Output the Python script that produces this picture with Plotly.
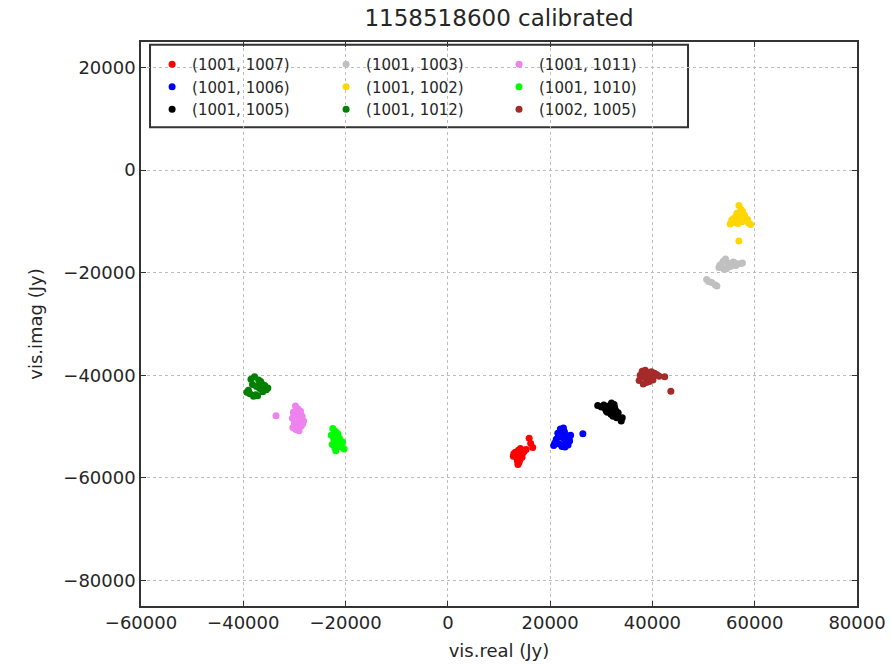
import plotly.graph_objects as go

# Visibilities per baseline: real and imaginary parts (Jy)
red_x = [13200, 13800, 14300, 12800, 13500, 14700, 13900, 14100, 13400, 14500, 12900, 13700, 14900, 14200, 13600, 15300, 15900, 16600, 16200, 14000]
red_y = [-55000, -54600, -55400, -55800, -56200, -55100, -57000, -56500, -55500, -56000, -55300, -57400, -54800, -54300, -56700, -54500, -52300, -54100, -53300, -55900]

blue_x = [21500, 22000, 22800, 23300, 21200, 22500, 23800, 21800, 22300, 20900, 23000, 24000, 22600, 21600, 23500, 22100, 26400, 20700, 22900, 23700]
blue_y = [-51300, -50500, -51000, -51800, -52500, -52200, -52800, -53400, -53900, -53200, -52900, -51700, -50300, -52000, -53600, -51600, -51400, -53700, -54000, -52400]

black_x = [29300, 30000, 30800, 31500, 32000, 32500, 31200, 31900, 32800, 33300, 30500, 31700, 32300, 33900, 34100, 31000, 32600, 33000]
black_y = [-45900, -46200, -46600, -46000, -45400, -45700, -47200, -47600, -46800, -47300, -45800, -46500, -48000, -48900, -48300, -47000, -46300, -48300]

grey_x = [53200, 53800, 54300, 54800, 55500, 56000, 56700, 57300, 53600, 54500, 55200, 54000, 53000, 56300, 57600, 55800, 51000, 51600, 52300, 50600, 52600]
grey_y = [-18500, -17800, -17300, -18100, -18600, -18000, -18300, -18200, -19000, -19200, -18800, -19300, -19000, -18600, -18100, -17900, -21700, -21900, -22400, -21300, -22600]

yellow_x = [56900, 57300, 56500, 57600, 56200, 57000, 55500, 56000, 56700, 57800, 58300, 58800, 59200, 55200, 55800, 57400, 58000, 56400, 56900, 58600]
yellow_y = [-6900, -7600, -8400, -8000, -9200, -9000, -9700, -10200, -10400, -9300, -9800, -10300, -10600, -10500, -9500, -10100, -8800, -10000, -13800, -9600]

dgreen_x = [-38500, -37800, -37000, -36500, -38200, -37400, -36800, -35800, -35200, -39000, -38700, -37600, -36200, -35500, -39300, -38000, -37200, -36600]
dgreen_y = [-40800, -40300, -40900, -41500, -41800, -42200, -42600, -42000, -42500, -42900, -43600, -43800, -43200, -42800, -43300, -44100, -44000, -41200]

violet_x = [-29800, -29300, -30200, -28800, -29600, -28500, -30400, -29000, -28200, -30000, -29400, -28700, -30300, -29700, -28400, -29100, -33600, -30100]
violet_y = [-46000, -46600, -47200, -47000, -47800, -48000, -48400, -48700, -48900, -49300, -49600, -49900, -50200, -50600, -49500, -50800, -47900, -48000]

lime_x = [-22500, -22000, -21500, -22800, -21800, -21200, -22300, -20900, -21600, -22600, -20600, -21300, -22100, -20300, -21900, -20800]
lime_y = [-50400, -50900, -51400, -51700, -52000, -52300, -52500, -52900, -53200, -53500, -53000, -53800, -54100, -54400, -54700, -54000]

brown_x = [38000, 38600, 39200, 39800, 40400, 37600, 38300, 39000, 39600, 40900, 41300, 37400, 38800, 40100, 42400, 43600, 38200, 39400]
brown_y = [-39200, -39000, -39500, -39300, -39600, -40000, -40300, -40700, -40100, -39900, -40200, -41000, -41400, -40900, -40300, -43100, -41700, -41200]

# (label, x, y, colour, legend column)
series = [
    ("(1001, 1007)", red_x, red_y, "red", "legend"),
    ("(1001, 1006)", blue_x, blue_y, "blue", "legend"),
    ("(1001, 1005)", black_x, black_y, "black", "legend"),
    ("(1001, 1003)", grey_x, grey_y, "#c0c0c0", "legend2"),
    ("(1001, 1002)", yellow_x, yellow_y, "gold", "legend2"),
    ("(1001, 1012)", dgreen_x, dgreen_y, "green", "legend2"),
    ("(1001, 1011)", violet_x, violet_y, "violet", "legend3"),
    ("(1001, 1010)", lime_x, lime_y, "lime", "legend3"),
    ("(1002, 1005)", brown_x, brown_y, "brown", "legend3"),
]

x_ticks = [-60000, -40000, -20000, 0, 20000, 40000, 60000, 80000]
y_ticks = [-80000, -60000, -40000, -20000, 0, 20000]

FONT = "DejaVu Sans"
TXT = "#262626"

fig = go.Figure()
for name, xs, ys, col, leg in series:
    fig.add_trace(go.Scatter(
        x=xs, y=ys, mode="markers", name=name, legend=leg, legendgroup=name,
        marker=dict(color=col, size=7, line=dict(width=0)),
    ))

axis_common = dict(
    showline=True, linecolor="#333", linewidth=1.5, mirror="allticks",
    ticks="inside", ticklen=5, tickcolor="#333",
    showgrid=True, gridcolor="#bdbdbd", griddash="dot", gridwidth=1,
    zeroline=False, automargin=False,
    tickfont=dict(family=FONT, size=18, color=TXT),
    title_font=dict(family=FONT, size=18, color=TXT),
)

def minus(v):
    return f"{v:d}".replace("-", "\u2212")

fig.update_xaxes(range=[-60000, 80000], tickvals=x_ticks,
                 ticktext=[minus(v) for v in x_ticks],
                 title_text="vis.real (Jy)", title_standoff=12, **axis_common)
fig.update_yaxes(range=[-85000, 25000], tickvals=y_ticks,
                 ticktext=[minus(v) for v in y_ticks],
                 title_text="vis.imag (Jy)", title_standoff=16, **axis_common)

legend_common = dict(
    orientation="v", yanchor="top", xanchor="left", y=0.9895,
    bgcolor="rgba(0,0,0,0)", borderwidth=0, tracegroupgap=0,
    font=dict(family=FONT, size=15, color=TXT),
)

fig.update_layout(
    width=891, height=665,
    margin=dict(l=141, r=34, t=42, b=59, autoexpand=False),
    paper_bgcolor="white", plot_bgcolor="white",
    title=dict(text="1158518600 calibrated", xref="paper", x=0.5, xanchor="center",
               yref="container", y=0.973, yanchor="middle",
               font=dict(family=FONT, size=23, color=TXT)),
    legend=dict(x=0.0155, **legend_common),
    legend2=dict(x=0.2585, **legend_common),
    legend3=dict(x=0.5000, **legend_common),
    showlegend=True,
    shapes=[dict(
        type="rect", xref="paper", yref="paper", layer="between",
        x0=0.0126, x1=0.764, y0=0.849, y1=0.995,
        line=dict(color="#333", width=2), fillcolor="white",
    )],
)

fig.write_html("out.html")
